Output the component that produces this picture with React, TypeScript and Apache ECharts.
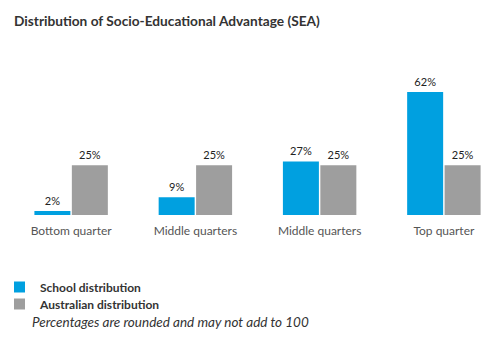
import React, { useEffect, useRef } from "react";
import * as echarts from "echarts";

const categories = ["Bottom quarter", "Middle quarters", "Middle quarters", "Top quarter"];
const schoolValues = [2, 9, 27, 62];
const australianValues = [25, 25, 25, 25];
const seriesNames = ["School distribution", "Australian distribution"];

export default function App() {
  const ref = useRef<HTMLDivElement>(null);
  useEffect(() => {
    if (!ref.current) return;
    const chart = echarts.init(ref.current, undefined, { renderer: "svg" });
    const font = "Lato, 'Noto Sans', sans-serif";
    const labelCfg = {
      show: true,
      position: "top",
      distance: 5,
      formatter: "{c}%",
      color: "#222",
      fontSize: 11,
      fontFamily: font,
    };
    chart.setOption({
      animation: false,
      title: {
        text: "Distribution of Socio-Educational Advantage (SEA)",
        left: 9,
        top: 8,
        textStyle: { fontSize: 13.7, fontWeight: "bold", color: "#333", fontFamily: font },
      },
      grid: { left: 9, width: 497, top: 76, height: 139, containLabel: false },
      xAxis: {
        type: "category",
        data: categories,
        axisLine: { show: false },
        axisTick: { show: false },
        axisLabel: { color: "#555", fontSize: 12, fontFamily: font, margin: 9, interval: 0 },
      },
      yAxis: { type: "value", min: 0, max: 70, show: false, splitLine: { show: false } },
      legend: {
        orient: "vertical",
        left: 9,
        top: 276,
        itemWidth: 11,
        itemHeight: 11,
        itemGap: 5,
        icon: "rect",
        data: seriesNames,
        textStyle: {
          fontSize: 12,
          fontWeight: "bold",
          color: "#333",
          fontFamily: font,
          padding: [0, 0, 0, 10],
        },
      },
      graphic: [
        {
          type: "text",
          left: 32,
          top: 315,
          style: {
            text: "Percentages are rounded and may not add to 100",
            fontSize: 13.5,
            fontStyle: "italic",
            fill: "#333",
            fontFamily: font,
          },
        },
      ],
      series: [
        {
          name: seriesNames[0],
          type: "bar",
          data: schoolValues,
          barWidth: 36,
          barGap: "4%",
          itemStyle: { color: "#00A0E0" },
          label: labelCfg,
        },
        {
          name: seriesNames[1],
          type: "bar",
          data: australianValues,
          barWidth: 36,
          barGap: "4%",
          itemStyle: { color: "#9E9E9E" },
          label: labelCfg,
        },
      ],
    });
    return () => chart.dispose();
  }, []);
  return (
    <div
      style={{ position: "absolute", left: 0, top: 0, width: 489, height: 341, overflow: "hidden", background: "#fff" }}
    >
      <div ref={ref} style={{ width: 520, height: 341 }} />
    </div>
  );
}
